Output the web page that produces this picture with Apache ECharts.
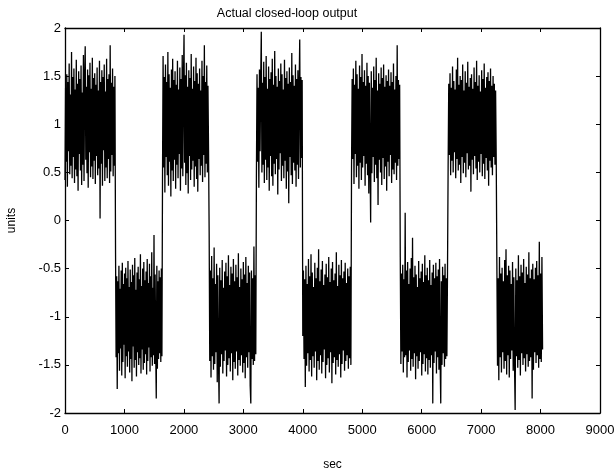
<!DOCTYPE html>
<html>
<head>
<meta charset="utf-8">
<script src="https://cdn.jsdelivr.net/npm/echarts@6/dist/echarts.min.js"></script>
<style>html,body{margin:0;padding:0;background:#fff;}#c{width:615px;height:476px;}</style>
</head>
<body>
<div id="c"></div>
<script>
// Segment boundaries (sec)
const segmentStart = [0, 850, 1640, 2425, 3220, 4000, 4820, 5640, 6445, 7265];
const segmentEnd   = [850, 1640, 2425, 3220, 4000, 4820, 5640, 6445, 7265, 8045];
// Output values per half-cycle
const seg1 = [0.42,1.38,0.61,1.52,0.35,1.44,0.72,1.63,0.48,1.31,0.57,1.75,0.44,1.49,0.66,1.58,0.39,1.36,0.53,1.67,
0.46,1.42,0.31,1.55,0.69,1.47,0.52,1.61,0.37,1.33,0.58,1.72,0.41,1.46,1.81,0.63,1.39,0.49,1.57,0.34,
1.51,0.71,1.64,0.45,1.37,0.56,1.69,0.43,1.48,0.62,1.53,0.38,1.41,0.67,1.59,0.47,1.35,0.54,1.66,0.02,
1.44,0.59,1.56,0.36,1.49,0.73,1.62,0.41,1.34,0.55,1.68,0.44,1.47,0.64,1.52,0.39,1.82,0.51,1.43,0.68,1.58,0.46,1.39,0.57,1.5];
const seg2 = [-0.31,-1.42,-0.58,-1.75,-0.63,-1.38,-0.47,-1.56,-0.71,-1.33,-0.52,-1.61,-0.44,-1.47,-0.66,-1.29,-0.55,-1.64,-0.49,-1.41,
-0.6,-1.52,-0.42,-1.36,-0.69,-1.58,-0.51,-1.44,-0.64,-1.67,-0.46,-1.31,-0.57,-1.53,-0.39,-1.45,-0.72,-1.62,-0.54,-1.37,
-0.48,-1.5,-0.61,-1.43,-0.35,-1.59,-0.68,-1.34,-0.5,-1.55,-0.43,-1.48,-0.62,-1.39,-0.53,-1.6,-0.4,-1.46,-0.65,-1.32,
-0.45,-1.57,-0.58,-1.42,-0.33,-1.51,-0.7,-1.4,-0.15,-1.49,-0.56,-1.35,-1.85,-0.47,-1.54,-0.63,-1.44,-0.52,-1.38,-0.59,-1.47,-0.5,-1.41];
const seg3 = [0.38,1.71,0.55,1.49,0.29,1.62,0.66,1.44,0.47,1.75,0.36,1.52,0.61,1.38,0.25,1.57,0.52,1.68,0.41,1.46,
0.63,1.55,0.33,1.41,0.58,1.66,0.44,1.36,0.69,1.59,0.31,1.47,0.54,1.72,0.46,1.43,1.93,0.6,1.51,0.37,
1.64,0.49,1.39,0.28,1.56,0.67,1.48,0.42,1.73,0.53,1.37,0.62,1.6,0.35,1.45,0.56,1.69,0.43,1.53,0.3,
1.42,0.64,1.58,0.47,1.35,0.57,1.66,0.4,1.5,0.68,1.82,0.45,1.44,0.59,1.61,0.5,1.4,0.72];
const seg4 = [-0.12,-1.46,-0.52,-1.63,-0.37,-1.41,-0.6,-1.55,-0.28,-1.49,-0.66,-1.37,-0.45,-1.68,-0.57,-1.44,-1.9,-0.49,-1.52,-0.62,
-1.39,-0.41,-1.59,-0.7,-1.46,-0.53,-1.35,-0.44,-1.62,-0.58,-1.5,-0.36,-1.43,-0.67,-1.57,-0.48,-1.38,-0.55,-1.66,-0.4,
-1.47,-0.63,-1.54,-0.46,-1.36,-0.59,-1.61,-0.34,-1.45,-0.69,-1.51,-0.5,-1.4,-0.61,-1.58,-0.43,-1.48,-0.56,-1.64,-0.38,
-1.42,-0.65,-1.53,-0.47,-1.37,-0.54,-1.72,-1.9,-0.52,-1.44,-0.6,-1.5,-0.27,-1.46,-0.57,-1.39];
const seg5 = [0.45,1.52,0.61,1.38,0.34,1.57,0.72,1.46,1.96,0.5,1.43,0.58,1.65,0.39,1.49,0.63,1.71,0.42,1.37,0.55,
1.6,0.31,1.47,0.67,1.54,0.46,1.68,0.36,1.41,0.59,1.76,0.48,1.5,0.64,1.39,0.27,1.58,0.53,1.45,0.7,
1.63,0.41,1.52,0.57,1.36,0.44,1.67,0.62,1.48,0.33,1.55,0.51,1.42,0.18,1.59,0.66,1.44,0.47,1.74,0.38,
1.51,0.6,1.4,0.52,1.62,0.35,1.47,0.58,1.56,0.43,1.38,1.88,0.55,1.49,0.65,1.46];
const seg6 = [-1.2,-0.52,-1.44,-0.61,-1.73,-0.47,-1.51,-0.66,-1.38,-0.4,-1.57,-0.58,-1.45,-0.35,-1.62,-0.54,-1.41,-0.69,-1.53,-0.44,
-1.36,-0.6,-1.66,-0.49,-1.46,-0.3,-1.55,-0.63,-1.4,-0.51,-1.59,-0.42,-1.47,-0.67,-1.34,-0.56,-1.64,-0.45,-1.5,-0.59,
-1.43,-0.38,-1.58,-0.64,-1.37,-0.5,-1.69,-0.43,-1.48,-0.62,-1.42,-0.55,-1.6,-0.33,-1.45,-0.68,-1.52,-0.46,-1.39,-0.57,
-1.63,-0.41,-1.49,-0.6,-1.35,-0.53,-1.56,-0.44,-1.46,-0.65,-1.4,-0.5,-1.54,-0.58,-1.43,-0.48,-1.5];
const seg7 = [0.52,1.47,0.64,1.58,0.38,1.41,0.69,1.66,0.45,1.52,0.57,1.37,0.33,1.61,0.6,1.49,0.42,1.73,0.55,1.44,
0.67,1.56,0.36,1.4,0.59,1.64,0.47,1.5,0.28,1.43,0.62,-0.02,1.55,0.49,1.38,0.66,1.6,0.4,1.46,0.58,
1.69,0.44,1.35,0.16,1.53,0.63,1.42,0.5,1.59,0.37,1.48,0.65,1.62,0.43,1.39,0.56,1.51,0.31,1.45,0.61,
1.57,0.46,1.4,0.68,1.54,0.39,1.44,0.53,1.63,0.48,1.36,0.6,1.5,0.42,1.82,0.57,1.46,0.64,1.41];
const seg8 = [-0.38,-1.49,-0.55,-1.36,-0.46,-1.58,-0.61,-1.42,0.08,-1.4,-0.52,-1.63,-0.43,-1.47,-0.66,-1.35,-0.5,-1.56,-0.39,-1.44,
-0.18,-1.52,-0.59,-1.38,-0.47,-1.65,-0.56,-1.41,-0.69,-1.54,-0.42,-1.46,-0.6,-1.37,-0.53,-1.61,-0.45,-1.49,-0.64,-1.39,
-0.36,-1.57,-0.57,-1.43,-0.49,-1.6,-0.62,-1.45,-0.41,-1.53,-0.67,-1.4,-0.54,-1.9,-0.46,-1.48,-0.6,-1.36,-0.44,-1.59,
-0.58,-1.42,-0.51,-1.55,-0.4,-1.47,-1.9,-0.63,-1.5,-0.48,-1.38,-0.57,-1.52,-0.45,-1.44,-0.6,-1.41,-0.53];
const seg9 = [0.55,1.42,0.68,1.53,0.47,1.38,0.62,1.6,0.5,1.45,0.71,1.36,0.44,1.57,0.64,1.69,0.52,1.41,0.58,1.5,
0.39,1.46,0.66,1.62,0.49,1.35,0.6,1.55,0.45,1.43,0.7,1.65,0.53,1.39,0.57,1.48,0.3,1.52,0.63,1.37,
0.48,1.59,0.67,1.44,0.54,1.66,0.42,1.4,0.61,1.51,0.5,1.34,0.69,1.56,0.46,1.47,0.59,1.63,0.43,1.38,
0.65,1.49,0.52,1.54,0.36,1.45,0.62,1.58,0.55,1.4,0.47,1.5,0.66,1.42,0.58,1.35,0.64];
const seg10 = [-0.44,-1.51,-0.6,-1.66,-0.38,-1.42,-0.55,-1.58,-0.49,-1.37,-0.63,-1.54,-0.41,-1.46,-0.3,-1.6,-0.57,-1.4,-0.47,-1.63,
-0.52,-1.44,-0.66,-1.35,-0.43,-1.56,-0.59,-1.48,-1.97,-0.5,-1.41,-0.62,-1.53,-0.36,-1.45,-0.58,-1.61,-0.46,-1.38,-0.54,
-1.5,-0.4,-1.43,-0.65,-1.57,-0.48,-1.39,-0.56,-1.52,-0.33,-1.46,-0.6,-1.42,-0.51,-1.85,-0.45,-1.55,-0.61,-1.37,-0.49,
-1.48,-0.42,-1.4,-0.57,-1.53,-0.22,-1.44,-0.55,-1.47,-0.38,-1.34];
const segments = [seg1, seg2, seg3, seg4, seg5, seg6, seg7, seg8, seg9, seg10];
const xTicks = [0,1000,2000,3000,4000,5000,6000,7000,8000,9000];
const yTicks = [-2,-1.5,-1,-0.5,0,0.5,1,1.5,2];

const data = [];
segments.forEach((seg, k) => {
  const s = segmentStart[k], e = segmentEnd[k];
  const step = (e - s) / seg.length;
  seg.forEach((v, i) => data.push([s + i * step, v]));
});

const font = 'Liberation Sans';
const chart = echarts.init(document.getElementById('c'), null, {renderer: 'canvas'});
const axisCommon = {
  axisLine: {show: true, onZero: false, lineStyle: {color: '#000', width: 1.3}},
  axisTick: {show: true, inside: true, length: 4, lineStyle: {color: '#000'}},
  splitLine: {show: false}
};
chart.setOption({
  animation: false,
  backgroundColor: '#fff',
  title: {
    text: 'Actual closed-loop output', left: 282, textAlign: 'center', top: 2,
    textStyle: {fontFamily: font, fontSize: 12.5, fontWeight: 'normal', color: '#000'}
  },
  grid: {left: 65, right: 15, top: 28, bottom: 63, show: false, containLabel: false, outerBoundsMode: 'none'},
  xAxis: [
    Object.assign({type: 'value', min: xTicks[0], max: xTicks[xTicks.length-1], interval: 1000, position: 'bottom',
      name: 'sec', nameLocation: 'middle', nameGap: 46,
      nameTextStyle: {fontFamily: font, fontSize: 12, color: '#000'},
      axisLabel: {fontFamily: font, fontSize: 13, color: '#000', margin: 11, formatter: v => String(v)}}, axisCommon),
    Object.assign({type: 'value', min: xTicks[0], max: xTicks[xTicks.length-1], interval: 1000, position: 'top',
      axisLabel: {show: false}}, axisCommon)
  ],
  yAxis: [
    Object.assign({type: 'value', min: yTicks[0], max: yTicks[yTicks.length-1], interval: 0.5, position: 'left',
      name: 'units', nameLocation: 'middle', nameGap: 47,
      nameTextStyle: {fontFamily: font, fontSize: 12, color: '#000'},
      axisLabel: {fontFamily: font, fontSize: 13, color: '#000', margin: 4, formatter: v => String(v)}}, axisCommon),
    Object.assign({type: 'value', min: yTicks[0], max: yTicks[yTicks.length-1], interval: 0.5, position: 'right',
      axisLabel: {show: false}}, axisCommon)
  ],
  series: [{
    type: 'line', data: data, xAxisIndex: 0, yAxisIndex: 0,
    showSymbol: false, symbol: 'none', sampling: null,
    lineStyle: {color: '#000', width: 1.3}
  }]
});
</script>
</body>
</html>
